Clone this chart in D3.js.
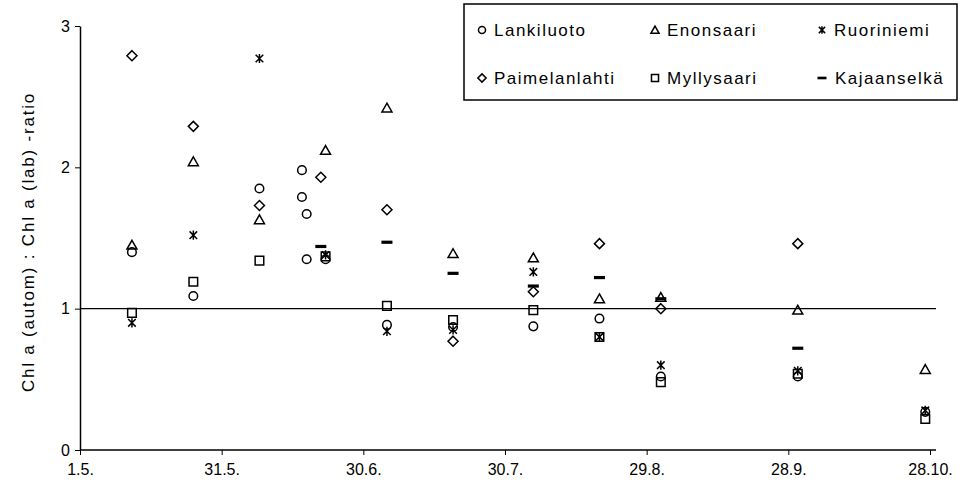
<!DOCTYPE html>
<html>
<head>
<meta charset="utf-8">
<script src="https://cdn.jsdelivr.net/npm/d3@7"></script>
<style>
  html, body { margin: 0; padding: 0; background: #fff; }
  svg { display: block; font-family: "Liberation Sans", Arial, sans-serif; }
</style>
</head>
<body>
<svg id="chart" width="962" height="494"></svg>
<script>
// Sampling dates (day.month.) and Chl a ratio per station
const lankiluotoDates = ["12.5.", "25.5.", "8.6.", "17.6.", "17.6.", "18.6.", "18.6.", "22.6.", "5.7.", "19.7.", "5.8.", "19.8.", "1.9.", "30.9.", "27.10."];
const lankiluotoValues = [1.40, 1.09, 1.85, 1.98, 1.79, 1.67, 1.35, 1.35, 0.885, 0.87, 0.875, 0.93, 0.52, 0.52, 0.27];

const enonsaariDates = ["12.5.", "25.5.", "8.6.", "22.6.", "5.7.", "19.7.", "5.8.", "19.8.", "1.9.", "30.9.", "27.10."];
const enonsaariValues = [1.45, 2.04, 1.63, 2.12, 2.42, 1.39, 1.36, 1.07, 1.08, 0.99, 0.57];

const ruoriniemiDates = ["12.5.", "25.5.", "8.6.", "22.6.", "5.7.", "19.7.", "5.8.", "19.8.", "1.9.", "30.9.", "27.10."];
const ruoriniemiValues = [0.90, 1.52, 2.77, 1.38, 0.84, 0.85, 1.26, 0.80, 0.60, 0.56, 0.28];

const paimelanlahtiDates = ["12.5.", "25.5.", "8.6.", "21.6.", "5.7.", "19.7.", "5.8.", "19.8.", "1.9.", "30.9."];
const paimelanlahtiValues = [2.79, 2.29, 1.73, 1.93, 1.70, 0.77, 1.12, 1.46, 1.00, 1.46];

const myllysaariDates = ["12.5.", "25.5.", "8.6.", "22.6.", "5.7.", "19.7.", "5.8.", "19.8.", "1.9.", "30.9.", "27.10."];
const myllysaariValues = [0.97, 1.19, 1.34, 1.37, 1.02, 0.92, 0.99, 0.80, 0.48, 0.54, 0.22];

const kajaanselkaDates = ["21.6.", "5.7.", "19.7.", "5.8.", "19.8.", "1.9.", "30.9."];
const kajaanselkaValues = [1.44, 1.47, 1.25, 1.16, 1.22, 1.07, 0.72];

const xTickLabels = ["1.5.", "31.5.", "30.6.", "30.7.", "29.8.", "28.9.", "28.10."];
const yTickValues = [0, 1, 2, 3];
const yTitle = "Chl a (autom) : Chl a (lab) -ratio";
const referenceRatio = 1;

const parseDay = d3.timeParse("%d.%m.");

const series = [
  { name: "Lankiluoto", shape: "circle", dates: lankiluotoDates, values: lankiluotoValues },
  { name: "Enonsaari", shape: "triangle", dates: enonsaariDates, values: enonsaariValues },
  { name: "Ruoriniemi", shape: "star", dates: ruoriniemiDates, values: ruoriniemiValues },
  { name: "Paimelanlahti", shape: "diamond", dates: paimelanlahtiDates, values: paimelanlahtiValues },
  { name: "Myllysaari", shape: "square", dates: myllysaariDates, values: myllysaariValues },
  { name: "Kajaanselkä", shape: "dash", dates: kajaanselkaDates, values: kajaanselkaValues }
];

const svg = d3.select("#chart");
const margin = { left: 80, right: 32, top: 26, bottom: 44 };
const width = 962, height = 494;
const font = "'Liberation Sans', Arial, sans-serif";

const x = d3.scaleTime()
  .domain([parseDay(xTickLabels[0]), parseDay(xTickLabels[xTickLabels.length - 1])])
  .range([margin.left, width - margin.right]);
const y = d3.scaleLinear()
  .domain([0, 3])
  .range([height - margin.bottom, margin.top]);

// Marker outlines, centred on the origin
function markerPath(shape, s) {
  const p = d3.path();
  if (shape === "circle") {
    p.moveTo(4.3 * s, 0); p.arc(0, 0, 4.3 * s, 0, 2 * Math.PI);
  } else if (shape === "triangle") {
    p.moveTo(0, -4.8 * s); p.lineTo(5 * s, 4 * s); p.lineTo(-5 * s, 4 * s); p.closePath();
  } else if (shape === "square") {
    p.rect(-4.3 * s, -4.3 * s, 8.6 * s, 8.6 * s);
  } else if (shape === "diamond") {
    p.moveTo(0, -5 * s); p.lineTo(5 * s, 0); p.lineTo(0, 5 * s); p.lineTo(-5 * s, 0); p.closePath();
  } else if (shape === "star") {
    p.moveTo(-3.8 * s, -3.8 * s); p.lineTo(3.8 * s, 3.8 * s);
    p.moveTo(3.8 * s, -3.8 * s); p.lineTo(-3.8 * s, 3.8 * s);
    p.moveTo(0, -4.6 * s); p.lineTo(0, 4.6 * s);
  }
  return p.toString();
}

function drawMarker(g, shape, s) {
  if (shape === "dash") {
    g.append("rect").attr("x", -5.5 * s).attr("y", -1.6 * s)
      .attr("width", 11 * s).attr("height", 3.2 * s).attr("fill", "#000");
  } else {
    g.append("path").attr("d", markerPath(shape, s))
      .attr("fill", "none").attr("stroke", "#000").attr("stroke-width", 1.5);
  }
}

// Axes
const xAxis = d3.axisBottom(x)
  .tickValues(xTickLabels.map(parseDay))
  .tickFormat((d, i) => xTickLabels[i])
  .tickSize(5).tickSizeOuter(0);
const yAxis = d3.axisLeft(y)
  .tickValues(yTickValues)
  .tickFormat(d3.format("d"))
  .tickSize(5).tickSizeOuter(0);

const gx = svg.append("g").attr("transform", `translate(0,${y(0)})`).call(xAxis);
const gy = svg.append("g").attr("transform", `translate(${x.range()[0]},0)`).call(yAxis);
[gx, gy].forEach(g => {
  g.select(".domain").attr("stroke", "#000").attr("stroke-width", 1.5);
  g.selectAll(".tick line").attr("stroke", "#000").attr("stroke-width", 1);
  g.selectAll(".tick text").attr("fill", "#000").attr("font-size", 16)
    .attr("font-family", font);
});
gx.select(".domain").attr("d", `M${x.range()[0]},0H${x.range()[1] + 6}`);
gx.selectAll(".tick text").attr("dy", "1.05em");
gy.selectAll(".tick text").attr("x", -10);

// Reference line at ratio 1
svg.append("line")
  .attr("x1", x.range()[0]).attr("x2", x.range()[1] + 6)
  .attr("y1", y(referenceRatio)).attr("y2", y(referenceRatio))
  .attr("stroke", "#000").attr("stroke-width", 1.3);

// Y axis title
svg.append("text")
  .attr("transform", `translate(34,${(y(0) + y(3)) / 2 + 4}) rotate(-90)`)
  .attr("text-anchor", "middle")
  .attr("font-size", 17)
  .attr("letter-spacing", 1.8)
  .attr("fill", "#000")
  .text(yTitle);

// Data points
series.forEach(sr => {
  const pts = sr.dates.map((d, i) => ({ date: parseDay(d), value: sr.values[i] }));
  const g = svg.append("g").attr("class", "series");
  pts.forEach(p => {
    const m = g.append("g").attr("transform", `translate(${x(p.date)},${y(p.value)})`);
    drawMarker(m, sr.shape, 1);
  });
});

// Legend
const legend = svg.append("g");
legend.append("rect")
  .attr("x", 464).attr("y", 4).attr("width", 493).attr("height", 96)
  .attr("fill", "#fff").attr("stroke", "#000").attr("stroke-width", 1.5);
const colX = [482, 655, 822];
const rowY = [30, 78];
series.forEach((sr, i) => {
  const cx = colX[i % 3], cy = rowY[Math.floor(i / 3)];
  const m = legend.append("g").attr("transform", `translate(${cx},${cy})`);
  drawMarker(m, sr.shape, 0.82);
  legend.append("text")
    .attr("x", cx + (sr.shape === "dash" ? 13 : 12)).attr("y", cy)
    .attr("dy", "0.35em")
    .attr("font-size", 17)
    .attr("letter-spacing", 1.5)
    .attr("fill", "#000")
    .text(sr.name);
});
</script>
</body>
</html>
